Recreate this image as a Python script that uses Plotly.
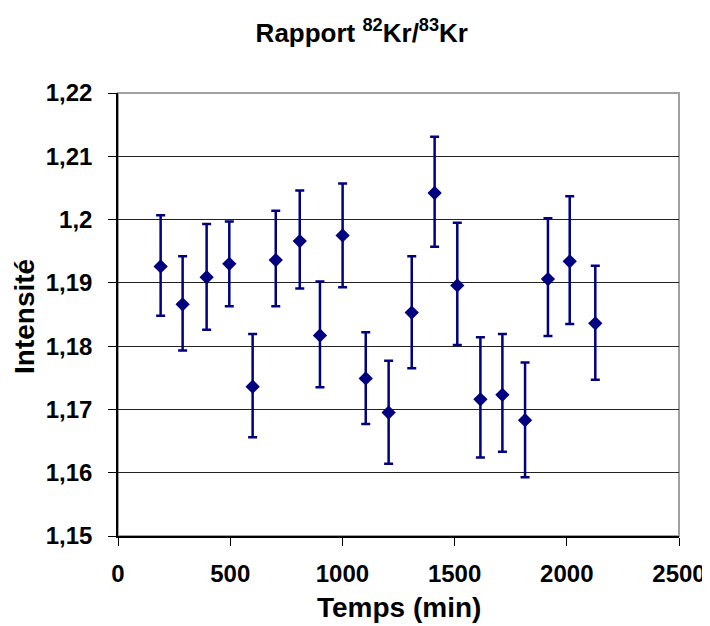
import plotly.graph_objects as go

# --- data ---
temps = [190, 288, 395, 496, 600, 703, 810, 900, 1001, 1104,
         1206, 1309, 1411, 1512, 1615, 1713, 1814, 1916, 2013, 2127]
rapport = [1.1926, 1.1866, 1.1909, 1.1930, 1.1736, 1.1936, 1.1966, 1.1817, 1.1975, 1.1749,
           1.1695, 1.1853, 1.2042, 1.1896, 1.1716, 1.1723, 1.1683, 1.1906, 1.1934, 1.1836]
err_plus = [0.0081, 0.0076, 0.0084, 0.0067, 0.0083, 0.0078, 0.0080, 0.0085, 0.0082, 0.0073,
            0.0082, 0.0089, 0.0089, 0.0099, 0.0098, 0.0096, 0.0091, 0.0096, 0.0103, 0.0091]
err_minus = [0.0078, 0.0073, 0.0083, 0.0067, 0.0080, 0.0073, 0.0075, 0.0082, 0.0082, 0.0072,
             0.0081, 0.0088, 0.0085, 0.0094, 0.0092, 0.0090, 0.0090, 0.0090, 0.0099, 0.0089]

y_ticks = [1.15, 1.16, 1.17, 1.18, 1.19, 1.20, 1.21, 1.22]
y_ticktext = ['1,15', '1,16', '1,17', '1,18', '1,19', '1,2', '1,21', '1,22']
x_ticks = [0, 500, 1000, 1500, 2000, 2500]

FONT = 'Liberation Sans, Arial, sans-serif'
NAVY = '#000080'

fig = go.Figure()
fig.add_trace(go.Scatter(
    x=temps, y=rapport, mode='markers',
    marker=dict(symbol='diamond', size=11, color=NAVY),
    error_y=dict(type='data', symmetric=False, array=err_plus, arrayminus=err_minus,
                 color=NAVY, thickness=2.5, width=4.5),
    showlegend=False))

# grey frame of the plot area (Excel style)
fig.add_shape(type='rect', xref='paper', yref='paper', x0=0, y0=0, x1=1, y1=1,
              line=dict(color='#a0a0a0', width=2), layer='below')

# axis titles placed as annotations so the margins stay fixed
fig.add_annotation(text='<b>Temps (min)</b>', xref='paper', yref='paper',
                   x=0.5, y=-0.1625, xanchor='center', yanchor='middle',
                   showarrow=False, font=dict(size=28, family=FONT))
fig.add_annotation(text='<b>Intensité</b>', xref='paper', yref='paper',
                   x=-0.1676, y=0.4966, xanchor='center', yanchor='middle', textangle=-90,
                   showarrow=False, font=dict(size=28, family=FONT))

# page body keeps an 8px margin, so the figure is 8px smaller each way
fig.update_layout(
    width=702, height=618,
    margin=dict(l=110, r=31, t=85, b=90),
    paper_bgcolor='white', plot_bgcolor='white',
    font=dict(family=FONT, color='black'),
    title=dict(text='<b>Rapport <sup>82</sup>Kr/<sup>83</sup>Kr</b>',
               x=0.504, xanchor='center', y=0.96, yanchor='middle',
               font=dict(size=26, family=FONT)),
    xaxis=dict(range=[0, 2500], tickvals=x_ticks, showgrid=False, zeroline=False,
               showline=True, linecolor='black', linewidth=1.5, automargin=False,
               ticks='outside', ticklen=8, tickcolor='black', ticklabelstandoff=7,
               tickfont=dict(size=24, family=FONT, weight='bold')),
    yaxis=dict(range=[1.15, 1.22], tickvals=y_ticks, ticktext=y_ticktext,
               showgrid=True, gridcolor='#222222', gridwidth=1.2, zeroline=False,
               showline=True, linecolor='black', linewidth=1.5, automargin=False,
               ticks='outside', ticklen=8, tickcolor='black', ticklabelstandoff=11,
               tickfont=dict(size=24, family=FONT, weight='bold')),
)

fig.write_html('out.html')
